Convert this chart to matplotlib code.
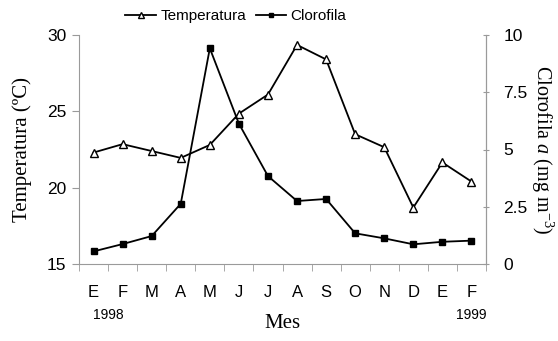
import matplotlib
matplotlib.use("Agg")
import matplotlib.pyplot as plt
import numpy as np

meses = ['E', 'F', 'M', 'A', 'M', 'J', 'J', 'A', 'S', 'O', 'N', 'D', 'E', 'F']
temperatura = [22.3, 22.85, 22.4, 21.95, 22.8, 24.85, 26.1, 29.35, 28.4, 23.5, 22.65, 18.7, 21.65, 20.4]
clorofila = [0.55, 0.87, 1.22, 2.63, 9.42, 6.13, 3.84, 2.75, 2.84, 1.34, 1.12, 0.86, 0.97, 1.02]
anios = {0.5: '1998', 13: '1999'}

gris = '#9a9a9a'
sans = 'Liberation Sans'
serif = 'Liberation Serif'

plt.rcParams['mathtext.fontset'] = 'custom'
plt.rcParams['mathtext.rm'] = serif
plt.rcParams['mathtext.it'] = serif + ':italic'

fig = plt.figure(figsize=(5.58, 3.41), dpi=100)
ax = fig.add_axes([79/558, 1-264/341, (486-79)/558, (264-35)/341])
ax2 = ax.twinx()

x = np.arange(len(meses))
l1, = ax.plot(x, temperatura, color='black', lw=1.3, marker='^', ms=6,
              mfc='white', mec='black', mew=1.0, label='Temperatura', zorder=3)
l2, = ax2.plot(x, clorofila, color='black', lw=1.3, marker='s', ms=4,
               mfc='black', mec='black', label='Clorofila', zorder=3)

ax.set_xlim(-0.5, len(meses) - 0.5)
ax.set_ylim(15, 30)
ax2.set_ylim(0, 10)
ax.set_yticks([15, 20, 25, 30])
ax2.set_yticks([0, 2.5, 5, 7.5, 10])
ax2.set_yticklabels(['0', '2.5', '5', '7.5', '10'])

ax.set_xticks(x)
ax.set_xticklabels(meses)
ax.set_xticks(np.arange(-0.5, len(meses)), minor=True)
ax.tick_params(axis='x', which='major', length=0, pad=15, labelsize=12)
ax.tick_params(axis='x', which='minor', length=5, color=gris, direction='out')
ax.tick_params(axis='y', length=5, color=gris, direction='out', labelsize=12.5, pad=4)
ax2.tick_params(axis='y', length=5, color=gris, direction='inout', labelsize=12.5, pad=10)
for lab in ax.get_xticklabels() + ax.get_yticklabels() + ax2.get_yticklabels():
    lab.set_fontfamily(sans)

for a in (ax, ax2):
    a.spines['top'].set_visible(False)
    for s in ('left', 'right', 'bottom'):
        a.spines[s].set_color(gris)
ax2.spines['left'].set_visible(False)
ax2.spines['bottom'].set_visible(False)

for pos, txt in anios.items():
    ax.text(pos, -0.19, txt, transform=ax.get_xaxis_transform(), ha='center',
            va='top', fontsize=10, family=sans)

ax.set_xlabel('Mes', fontsize=15, family=serif, labelpad=10)
ax.set_ylabel('Temperatura (ºC)', fontsize=15, family=serif, labelpad=11)
ax2.set_ylabel(r'Clorofila $\mathit{a}$ (mg m$^{\mathregular{-3}}$)', fontsize=14.5,
               family=serif, rotation=270, labelpad=20)

fig.legend(handles=[l1, l2], loc='center', bbox_to_anchor=(236/558, 1-16/341),
           ncol=2, frameon=False, prop={'family': sans, 'size': 11},
           handlelength=2.0, handletextpad=0.3, columnspacing=0.6,
           markerscale=0.8)

fig.savefig('out.png', dpi=100)
